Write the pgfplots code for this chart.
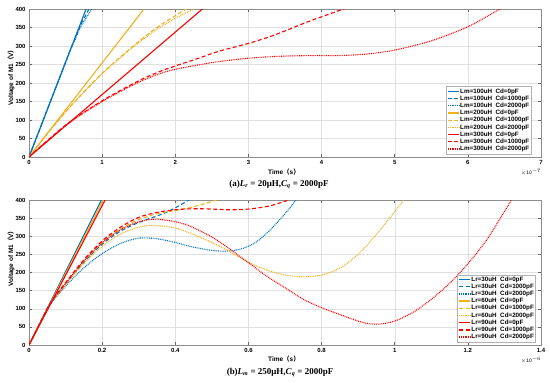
\documentclass[border=0pt]{standalone}
\usepackage{fontspec}
\setmainfont{Liberation Sans}
\newfontfamily\serifb{Liberation Serif}
\newfontfamily\cjk{Noto Sans CJK SC}
\usepackage{pgfplots}
\pgfplotsset{compat=1.18}
\definecolor{mblue}{rgb}{0,0.447,0.741}
\definecolor{morange}{rgb}{0.929,0.694,0.125}
\definecolor{mred}{rgb}{1,0,0}
\pgfplotsset{
 legend image code/.code={\draw[#1, line width=1.3bp] (0bp,0bp) -- (11bp,0bp);},
}
\pgfplotsset{
 mstyle/.style={
  scale only axis, width=512bp,
  axis line style={black!45, line width=0.5bp},
  tick style={black!60, line width=0.5bp}, major tick length=3bp,
  tick align=inside, xtick pos=both, ytick pos=both,
  grid=major, grid style={black!12, line width=0.4bp},
  ymin=0, ymax=400, ytick={0,50,...,400},
  ticklabel style={font=\bfseries\fontsize{6}{7}\selectfont},
  /pgf/number format/assume math mode=true,
  legend style={font=\bfseries\fontsize{6.3}{7}\selectfont, draw=black!30, line width=0.4bp,
    inner sep=1.2bp, nodes={inner sep=0.6bp, text height=4.6bp, text depth=1.4bp}},
  legend cell align=left,
 },
 sol/.style={line width=1.1bp},
 das/.style={line width=1.1bp, dash pattern=on 4bp off 2.5bp},
 dot/.style={line width=1.1bp, dash pattern=on 0.9bp off 0.9bp},
}
\begin{document}
\begin{tikzpicture}
\useasboundingbox (0,0) rectangle (550bp,-383bp);
% ---------------- top ----------------
\begin{axis}[mstyle, at={(29bp,-157bp)}, anchor=south west, height=148bp,
  xmin=0, xmax=7, xtick={0,1,...,7},
  legend style={at={(0.981,0.02)}, anchor=south east}]
\addplot[sol, mblue] coordinates {(0,0) (0.8,410)};
\addplot[das, mblue] coordinates {(0,0) (0.3,154) (0.55,282) (0.7,355) (0.82,400) (0.84,408)};
\addplot[dot, mblue] coordinates {(0,0) (0.3,153) (0.55,281) (0.7,350) (0.86,400) (0.88,406)};
\addplot[sol, morange] coordinates {(0,0) (1.6,407)};
\addplot[das, morange, smooth] coordinates {(0,0) (0.25,63) (0.5,122) (0.75,176) (1.0,226) (1.25,270) (1.5,312) (1.75,350) (2.0,382) (2.15,400) (2.2,405)};
\addplot[dot, morange, smooth] coordinates {(0,0) (0.25,63) (0.5,122) (0.75,175) (1.0,225) (1.25,269) (1.5,309) (1.75,345) (2.0,375) (2.26,400) (2.3,404)};
\addplot[sol, mred] coordinates {(0,0) (2.4,405)};
\addplot[das, mred, smooth] coordinates {(0,0) (0.5,86) (1.0,152) (1.5,206) (1.8,232) (2.0,246) (2.32,267) (2.6,286) (3.0,307) (3.36,330) (3.82,366) (4.3,400) (4.35,404)};
\addplot[dot, mred, smooth] coordinates {(0,0) (0.5,85) (1.0,150) (1.5,202) (1.8,226) (2.0,237) (2.32,249) (2.6,258) (3.0,267) (3.4,272) (3.8,274) (4.2,274) (4.6,278) (5.0,289) (5.5,314) (6.0,352) (6.44,400) (6.5,406)};
\legend{Lm=100uH\ \ Cd=0pF, Lm=100uH\ \ Cd=1000pF, Lm=100uH\ \ Cd=2000pF,
        Lm=200uH\ \ Cd=0pF, Lm=200uH\ \ Cd=1000pF, Lm=200uH\ \ Cd=2000pF,
        Lm=300uH\ \ Cd=0pF, Lm=300uH\ \ Cd=1000pF, Lm=300uH\ \ Cd=2000pF}
\end{axis}
% ---------------- bottom ----------------
\begin{axis}[mstyle, at={(29bp,-345bp)}, anchor=south west, height=145bp,
  xmin=0, xmax=1.4, xtick={0,0.2,0.4,0.6,0.8,1,1.2,1.4},
  xticklabels={0,0.2,0.4,0.6,0.8,1,1.2,1.4},
  legend style={at={(0.990,0.02)}, anchor=south east}]
\addplot[sol, mblue] coordinates {(0,0) (0.198,400) (0.205,414)};
\addplot[das, mblue, smooth] coordinates {(0,0) (0.03,60) (0.06,116) (0.1,168) (0.15,228) (0.2,278) (0.25,314) (0.3,338) (0.35,356) (0.38,368) (0.41,384) (0.44,402) (0.45,410)};
\addplot[dot, mblue, smooth] coordinates {(0,0) (0.03,60) (0.06,114) (0.1,162) (0.15,213) (0.2,252) (0.25,280) (0.3,295) (0.35,293) (0.4,283) (0.44,272) (0.5,261) (0.54,259) (0.58,265) (0.62,283) (0.66,318) (0.7,362) (0.73,400) (0.74,412)};
\addplot[sol, morange] coordinates {(0,0) (0.203,400) (0.21,414)};
\addplot[das, morange, smooth] coordinates {(0,0) (0.03,60) (0.06,117) (0.1,170) (0.15,232) (0.2,283) (0.25,320) (0.3,346) (0.35,362) (0.4,371) (0.44,379) (0.48,390) (0.515,401) (0.53,407)};
\addplot[dot, morange, smooth] coordinates {(0,0) (0.03,60) (0.06,116) (0.1,167) (0.15,225) (0.2,272) (0.25,306) (0.3,325) (0.34,330) (0.4,323) (0.44,309) (0.5,283) (0.55,257) (0.6,228) (0.65,207) (0.7,193) (0.75,188) (0.8,193) (0.85,212) (0.9,250) (0.95,305) (1.0,368) (1.025,400) (1.03,407)};
\addplot[sol, mred] coordinates {(0,0) (0.208,400) (0.215,414)};
\addplot[das, mred, smooth] coordinates {(0,0) (0.03,60) (0.06,118) (0.1,172) (0.15,235) (0.2,287) (0.25,325) (0.3,352) (0.35,366) (0.4,373) (0.45,376) (0.5,375) (0.55,373) (0.6,375) (0.65,382) (0.68,390) (0.71,400) (0.72,404)};
\addplot[dot, mred, smooth] coordinates {(0,0) (0.03,60) (0.06,117) (0.1,170) (0.15,232) (0.2,282) (0.25,318) (0.3,340) (0.346,347) (0.4,340) (0.44,328) (0.5,298) (0.55,264) (0.6,227) (0.65,190) (0.7,158) (0.75,126) (0.8,103) (0.85,84) (0.9,66) (0.93,59) (0.96,58) (1.0,66) (1.05,90) (1.1,126) (1.15,170) (1.2,224) (1.25,288) (1.3,368) (1.32,402)};
\legend{Lr=30uH\ \ Cd=0pF, Lr=30uH\ \ Cd=1000pF, Lr=30uH\ \ Cd=2000pF,
        Lr=60uH\ \ Cd=0pF, Lr=60uH\ \ Cd=1000pF, Lr=60uH\ \ Cd=2000pF,
        Lr=90uH\ \ Cd=0pF, Lr=90uH\ \ Cd=1000pF, Lr=90uH\ \ Cd=2000pF}
\end{axis}
% ---------------- texts ----------------
\node[font=\bfseries\fontsize{6.5}{7}\selectfont] at (284bp,-172bp) {Time{\cjk （}s{\cjk ）}};
\node[font=\bfseries\fontsize{6.5}{7}\selectfont] at (284bp,-359bp) {Time{\cjk （}s{\cjk ）}};
\node[font=\bfseries\fontsize{6.5}{7}\selectfont, rotate=90] at (11bp,-76bp) {Voltage of M1{\cjk （}V{\cjk ）}};
\node[font=\bfseries\fontsize{6.5}{7}\selectfont, rotate=90] at (11bp,-257bp) {Voltage of M1{\cjk （}V{\cjk ）}};
\node[font=\fontsize{5}{6}\selectfont] at (531bp,-172bp) {$\times$10$^{-7}$};
\node[font=\fontsize{5}{6}\selectfont] at (531bp,-360bp) {$\times$10$^{-6}$};
\node[font=\serifb\bfseries\fontsize{9}{10}\selectfont] at (279bp,-185bp)
  {(a)\textit{L}\textsubscript{\textit{r}} = 20μH,\textit{C}\textsubscript{\textit{q}} = 2000pF};
\node[font=\serifb\bfseries\fontsize{9}{10}\selectfont] at (280bp,-373bp)
  {(b)\textit{L}\textsubscript{\textit{m}} = 250μH,\textit{C}\textsubscript{\textit{q}} = 2000pF};
\end{tikzpicture}
\end{document}
